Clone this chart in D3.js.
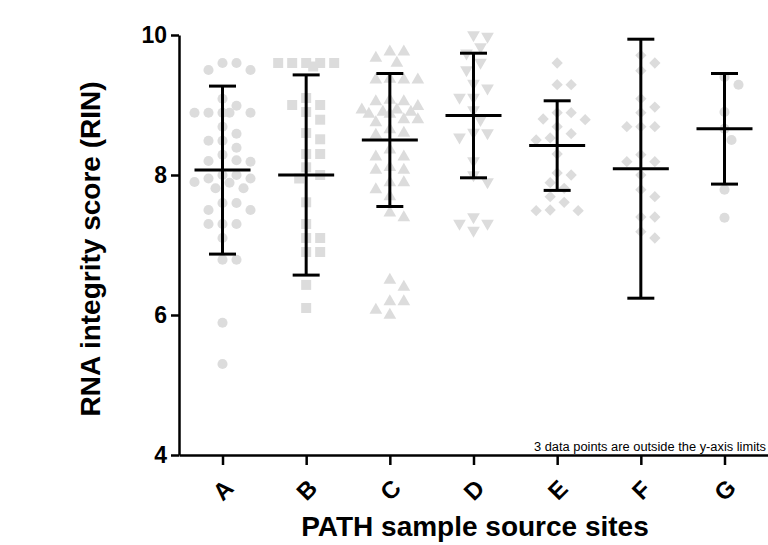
<!DOCTYPE html>
<html>
<head>
<meta charset="utf-8">
<script src="https://cdn.jsdelivr.net/npm/d3@7"></script>
<style>
  body { margin: 0; background: #fff; }
  svg { display: block; font-family: "Liberation Sans", Arial, sans-serif; }
</style>
</head>
<body>
<div id="vis"></div>
<script>
const FRAME_WIDTH = 768;
const FRAME_HEIGHT = 545;

// sites on the x axis
const sites = ['A', 'B', 'C', 'D', 'E', 'F', 'G'];
const shapes = ['circle', 'square', 'triangle', 'triangleDown', 'diamond', 'diamond', 'circle'];

// RIN values, one array per site
const siteA = [9.6, 9.6, 9.5, 9.5, 9.09, 8.99, 8.89, 8.89, 8.89, 8.89, 8.89, 8.69, 8.59, 8.49, 8.49,
               8.39, 8.29, 8.21, 8.19, 8.2, 8.0, 8.0, 7.95, 7.89, 7.9, 7.81, 7.81, 7.95, 7.6, 7.5,
               7.5, 7.6, 7.3, 7.3, 7.3, 7.1, 6.79, 6.79, 5.89, 5.3];
const siteB = [9.6, 9.6, 9.6, 9.6, 9.6, 9.55, 9.1, 9.0, 9.0, 8.9, 8.79, 8.6, 8.51, 8.3, 8.3, 8.11,
               8.0, 7.95, 7.61, 7.3, 7.1, 7.1, 6.9, 6.9, 6.43, 6.1];
const siteC = [9.76, 9.76, 9.67, 9.6, 9.37, 9.36, 9.36, 9.36, 9.07, 9.05, 9.05, 8.98, 8.93, 8.93,
               8.9, 8.9, 8.87, 8.87, 8.79, 8.75, 8.79, 8.6, 8.57, 8.65, 8.36, 8.26, 8.26, 8.11,
               8.07, 8.07, 7.89, 7.89, 7.79, 7.69, 7.46, 7.39, 6.5, 6.4, 6.19, 6.19, 6.07, 6.0];
const siteD = [10.0, 9.98, 9.83, 9.74, 9.61, 9.5, 9.31, 9.24, 9.11, 9.11, 8.93, 8.79, 8.61, 8.6,
               8.54, 8.2, 8.0, 7.9, 7.4, 7.31, 7.31, 7.21];
const siteE = [9.6, 9.29, 9.29, 8.89, 8.89, 8.8, 8.79, 8.69, 8.59, 8.53, 8.5, 8.3, 8.03, 8.0,
               7.89, 7.81, 7.69, 7.61, 7.49, 7.49, 7.5];
const siteF = [9.71, 9.6, 9.49, 9.09, 8.97, 8.89, 8.69, 8.69, 8.69, 8.29, 8.19, 8.19, 8.0, 7.79,
               7.69, 7.4, 7.4, 7.19, 7.1];
const siteG = [9.4, 9.29, 8.9, 8.66, 8.5, 7.79, 7.39];

// mean and SD per site (error bars)
const means = [8.07, 8.0, 8.5, 8.85, 8.42, 8.09, 8.66];
const sds = [1.2, 1.43, 0.95, 0.89, 0.64, 1.85, 0.79];

const yTicks = [4, 6, 8, 10];

const siteValues = [siteA, siteB, siteC, siteD, siteE, siteF, siteG];

const FRAME = d3.select('#vis')
  .append('svg')
    .attr('width', FRAME_WIDTH)
    .attr('height', FRAME_HEIGHT);

const X_SCALE = d3.scalePoint()
  .domain(sites)
  .range([179, 768])
  .padding(0.52);

const Y_SCALE = d3.scaleLinear()
  .domain([4, 10])
  .range([455, 35]);

// symbol generators
const symbolFor = {
  circle: d3.symbol(d3.symbolCircle, 80),
  square: d3.symbol(d3.symbolSquare, 100),
  triangle: d3.symbol(d3.symbolTriangle, 70),
  triangleDown: d3.symbol(d3.symbolTriangle, 70),
  diamond: d3.symbol(d3.symbolSquare, 64)
};
const rotateFor = {circle: 0, square: 0, triangle: 0, triangleDown: 180, diamond: 45};

// beeswarm kept inside +-28px of the site centre; when full, take the least crowded slot
function swarm(values, cx) {
  const placed = [];
  const sorted = values.slice().sort((a, b) => b - a);
  const offsets = [0, 7, -7, 14, -14, 21, -21, 28, -28];
  sorted.forEach(v => {
    const y = Y_SCALE(v);
    let best = null, bestGap = -1;
    for (const off of offsets) {
      const x = cx + off;
      const gap = placed.length ? d3.min(placed, p => Math.hypot(p.x - x, p.y - y)) : Infinity;
      if (gap >= 12) { best = x; break; }
      if (gap > bestGap) { bestGap = gap; best = x; }
    }
    placed.push({x: best, y: y, v: v});
  });
  return placed;
}

// points
siteValues.forEach((vals, i) => {
  const shape = shapes[i];
  const pts = swarm(vals.filter(v => v >= 4 && v <= 10), X_SCALE(sites[i]));
  FRAME.append('g')
    .selectAll('path')
    .data(pts)
    .enter()
    .append('path')
      .attr('d', symbolFor[shape])
      .attr('transform', d => 'translate(' + d.x + ',' + d.y + ') rotate(' + rotateFor[shape] + ')')
      .attr('fill', '#dcdcdc');
});

// error bars: mean line + SD whiskers
const bars = FRAME.append('g')
  .attr('stroke', '#000')
  .attr('stroke-width', 3)
  .attr('fill', 'none');

sites.forEach((s, i) => {
  const cx = X_SCALE(s);
  const lo = means[i] - sds[i];
  const hi = means[i] + sds[i];
  bars.append('line')
    .attr('x1', cx).attr('x2', cx)
    .attr('y1', Y_SCALE(hi)).attr('y2', Y_SCALE(lo));
  bars.append('line')
    .attr('x1', cx - 28).attr('x2', cx + 28)
    .attr('y1', Y_SCALE(means[i])).attr('y2', Y_SCALE(means[i]));
  [lo, hi].forEach(v => {
    bars.append('line')
      .attr('x1', cx - 13.5).attr('x2', cx + 13.5)
      .attr('y1', Y_SCALE(v)).attr('y2', Y_SCALE(v));
  });
});

// y axis
const yAxis = FRAME.append('g')
  .attr('transform', 'translate(179,0)')
  .call(d3.axisLeft(Y_SCALE).tickValues(yTicks).tickFormat(d3.format('d'))
    .tickSize(8).tickSizeOuter(0).tickPadding(4));
yAxis.select('.domain').attr('stroke-width', 2.5);
yAxis.selectAll('.tick line').attr('stroke-width', 2.5);
yAxis.selectAll('.tick text')
  .attr('font-size', '23px')
  .attr('font-weight', 'bold')
  .attr('font-family', '"Liberation Sans", Arial, sans-serif')
  .attr('fill', '#000');

// x axis
const xAxis = FRAME.append('g')
  .attr('transform', 'translate(0,455)')
  .call(d3.axisBottom(X_SCALE).tickSize(10).tickSizeOuter(0));
xAxis.select('.domain').attr('stroke-width', 2.5);
xAxis.selectAll('.tick line').attr('stroke-width', 2.5);
xAxis.selectAll('.tick text')
  .attr('font-size', '24px')
  .attr('font-weight', 'bold')
  .attr('font-family', '"Liberation Sans", Arial, sans-serif')
  .attr('fill', '#000')
  .attr('y', 0)
  .attr('dy', '0.35em')
  .attr('text-anchor', 'middle')
  .attr('transform', 'translate(0,35) rotate(-45)');

// axis titles
FRAME.append('text')
  .attr('x', 475)
  .attr('y', 536)
  .attr('text-anchor', 'middle')
  .attr('font-size', '28px')
  .attr('font-weight', 'bold')
  .text('PATH sample source sites');

FRAME.append('text')
  .attr('transform', 'translate(100,249) rotate(-90)')
  .attr('text-anchor', 'middle')
  .attr('font-size', '28px')
  .attr('font-weight', 'bold')
  .text('RNA integrity score (RIN)');

// note about clipped points
FRAME.append('text')
  .attr('x', 766)
  .attr('y', 451)
  .attr('text-anchor', 'end')
  .attr('font-size', '12px')
  .attr('font-family', '"Liberation Sans Narrow", "Liberation Sans", sans-serif')
  .attr('textLength', 232)
  .attr('lengthAdjust', 'spacingAndGlyphs')
  .text('3 data points are outside the y-axis limits');
</script>
</body>
</html>
